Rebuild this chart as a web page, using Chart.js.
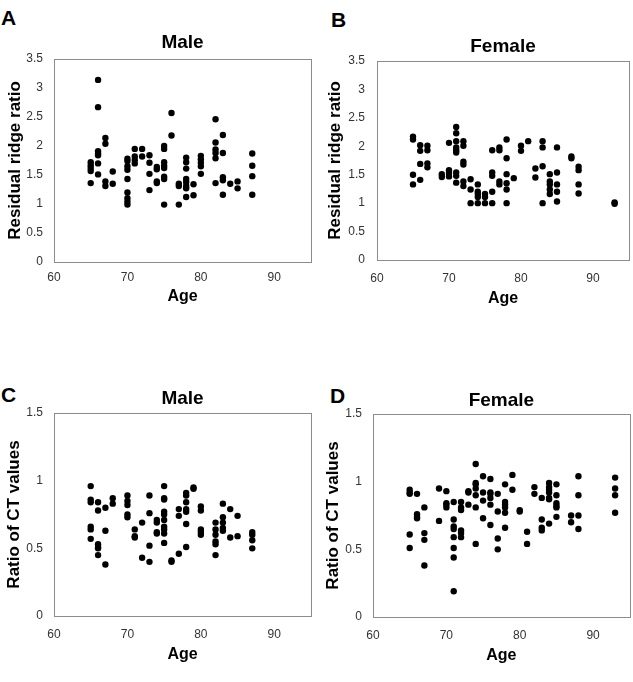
<!DOCTYPE html>
<html>
<head>
<meta charset="utf-8">
<script src="https://cdn.jsdelivr.net/npm/chart.js@4/dist/chart.umd.min.js"></script>
<style>
  body { margin: 0; background: #fff; width: 633px; height: 682px; position: relative; overflow: hidden; }
  .panel { position: absolute; }
  .letter { position: absolute; font: bold 21px "Liberation Sans", Arial, sans-serif; line-height: 21px; color: #000; }
</style>
</head>
<body>
<div class="letter" style="left:1px;top:7px">A</div>
<div class="letter" style="left:331px;top:9px">B</div>
<div class="letter" style="left:1px;top:384px">C</div>
<div class="letter" style="left:330px;top:385px">D</div>

<div class="panel" style="left:0;top:0;width:316px;height:310px"><canvas id="chartA"></canvas></div>
<div class="panel" style="left:318px;top:0;width:315px;height:310px"><canvas id="chartB"></canvas></div>
<div class="panel" style="left:0;top:340px;width:316px;height:330px"><canvas id="chartC"></canvas></div>
<div class="panel" style="left:318px;top:340px;width:315px;height:330px"><canvas id="chartD"></canvas></div>

<script>
// Residual ridge ratio, male (ages, then values at each age)
const maleRidgeAges = [65, 66, 67, 68, 70, 71, 72, 73, 74, 75, 76, 77, 78, 79, 80, 82, 83, 84, 85, 87];
const maleRidgeValues = [
  [1.72, 1.67, 1.62, 1.57, 1.36],
  [3.14, 2.67, 1.91, 1.87, 1.84, 1.70, 1.51],
  [2.14, 2.04, 1.39, 1.31],
  [1.56, 1.35],
  [1.78, 1.74, 1.65, 1.59, 1.43, 1.20, 1.10, 1.04, 0.99],
  [1.95, 1.82, 1.76, 1.70],
  [1.95, 1.82],
  [1.84, 1.71, 1.52, 1.24],
  [1.64, 1.60, 1.39, 1.36],
  [2.00, 1.95, 1.72, 1.66, 1.62, 1.47, 1.43, 0.99],
  [2.57, 2.18],
  [1.35, 1.31, 0.99],
  [1.80, 1.72, 1.61, 1.43, 1.38, 1.31, 1.27, 1.12],
  [1.34, 1.15],
  [1.83, 1.77, 1.71, 1.65, 1.52],
  [2.46, 2.06, 1.94, 1.88, 1.79, 1.36],
  [2.19, 1.88, 1.46, 1.41, 1.16],
  [1.35],
  [1.39, 1.27],
  [1.87, 1.66, 1.48, 1.16]
];

// Residual ridge ratio, female
const femaleRidgeAges = [65, 66, 67, 69, 70, 71, 72, 73, 74, 75, 76, 77, 78, 79, 80, 81, 82, 83, 84, 85, 87, 88, 93];
const femaleRidgeValues = [
  [2.17, 2.12, 1.50, 1.33],
  [2.02, 1.92, 1.69, 1.41],
  [2.01, 1.93, 1.70, 1.63],
  [1.51, 1.46],
  [2.06, 1.58, 1.53, 1.47],
  [2.34, 2.23, 2.09, 1.98, 1.93, 1.89, 1.54, 1.48, 1.36],
  [2.09, 2.01, 1.73, 1.68, 1.38, 1.30],
  [1.42, 1.24, 1.00],
  [1.33, 1.20, 1.16, 1.11, 1.00],
  [1.16, 1.11, 1.00],
  [1.93, 1.54, 1.48, 1.20, 1.00],
  [1.98, 1.93, 1.38, 1.33],
  [2.12, 1.79, 1.51, 1.35, 1.24, 1.00],
  [1.44],
  [2.01, 1.92],
  [2.09],
  [1.61, 1.45],
  [2.09, 1.98, 1.65, 1.00],
  [1.51, 1.38, 1.33, 1.24, 1.16],
  [1.98, 1.54, 1.33, 1.20, 1.03],
  [1.82, 1.79],
  [1.64, 1.58, 1.33, 1.17],
  [1.01, 0.99]
];

// Ratio of CT values, male
const maleCtAges = [65, 66, 67, 68, 70, 71, 72, 73, 74, 75, 76, 77, 78, 79, 80, 82, 83, 84, 85, 87];
const maleCtValues = [
  [0.96, 0.86, 0.84, 0.66, 0.64, 0.57],
  [0.84, 0.78, 0.53, 0.51, 0.50, 0.45],
  [0.80, 0.63, 0.38],
  [0.87, 0.83],
  [0.89, 0.85, 0.82, 0.75, 0.73],
  [0.64, 0.59, 0.58],
  [0.69, 0.43],
  [0.89, 0.76, 0.52, 0.40],
  [0.71, 0.69, 0.62, 0.61],
  [0.96, 0.87, 0.86, 0.77, 0.75, 0.71, 0.66, 0.64, 0.61, 0.54],
  [0.41, 0.40],
  [0.79, 0.74, 0.46],
  [0.91, 0.89, 0.84, 0.79, 0.77, 0.68, 0.51],
  [0.95, 0.94],
  [0.81, 0.78, 0.64, 0.62, 0.60],
  [0.69, 0.64, 0.60, 0.55, 0.53, 0.45],
  [0.83, 0.73, 0.69, 0.65, 0.63],
  [0.79, 0.58],
  [0.74, 0.59],
  [0.62, 0.60, 0.56, 0.50]
];

// Ratio of CT values, female
const femaleCtAges = [65, 66, 67, 69, 70, 71, 72, 73, 74, 75, 76, 77, 78, 79, 80, 81, 82, 83, 84, 85, 87, 88, 93];
const femaleCtValues = [
  [0.94, 0.92, 0.91, 0.61, 0.51],
  [0.91, 0.76, 0.74, 0.73],
  [0.81, 0.62, 0.57, 0.38],
  [0.95, 0.71],
  [0.93, 0.84, 0.83, 0.81],
  [0.85, 0.72, 0.67, 0.65, 0.59, 0.51, 0.44, 0.19],
  [0.85, 0.81, 0.79, 0.64, 0.62, 0.59],
  [0.93, 0.92, 0.83],
  [1.13, 0.99, 0.98, 0.95, 0.90, 0.81, 0.54],
  [1.04, 0.92, 0.86, 0.73],
  [1.02, 0.92, 0.91, 0.88, 0.83, 0.68],
  [0.91, 0.78, 0.58, 0.50],
  [0.98, 0.85, 0.83, 0.81, 0.77, 0.66],
  [1.05, 0.94],
  [0.79, 0.78],
  [0.63, 0.54],
  [0.96, 0.91],
  [0.88, 0.72, 0.66, 0.64],
  [0.99, 0.96, 0.94, 0.92, 0.88, 0.87, 0.69],
  [0.98, 0.90, 0.84, 0.82, 0.81, 0.74],
  [0.75, 0.70],
  [1.04, 0.90, 0.75, 0.65],
  [1.03, 0.95, 0.90, 0.77]
];

const FONT = '"Liberation Sans", Arial, sans-serif';

// draws the grey frame round the plot area
const frame = {
  id: 'frame',
  beforeDatasetsDraw(chart) {
    const a = chart.chartArea, ctx = chart.ctx;
    ctx.save();
    ctx.strokeStyle = '#8c8c8c';
    ctx.lineWidth = 1;
    ctx.strokeRect(Math.round(a.left) + 0.5, Math.round(a.top) + 0.5,
      Math.round(a.right - a.left), Math.round(a.bottom - a.top));
    ctx.restore();
  }
};

function makePanel(id, title, yTitle, ages, values, yMax, box) {
  const points = ages.flatMap((age, i) => values[i].map(v => ({ x: age, y: v })));
  return new Chart(document.getElementById(id), {
    type: 'scatter',
    data: {
      datasets: [{
        data: points,
        backgroundColor: '#000',
        borderWidth: 0,
        pointRadius: 3.2,
        pointHoverRadius: 3.2
      }]
    },
    options: {
      responsive: true,
      maintainAspectRatio: false,
      animation: false,
      events: [],
      layout: { padding: { left: 0, top: 0, bottom: 0, right: box.padRight } },
      plugins: {
        legend: { display: false },
        tooltip: { enabled: false },
        title: {
          display: true,
          text: title,
          fullSize: false,
          color: '#000',
          font: { family: FONT, size: 19, weight: 'bold' },
          padding: { top: box.titleTop, bottom: box.titleBottom }
        }
      },
      scales: {
        x: {
          type: 'linear',
          min: 60,
          max: 95,
          grid: { display: false, drawTicks: false },
          border: { display: false },
          ticks: {
            stepSize: 10,
            includeBounds: false,
            padding: box.xTickPad,
            color: '#333',
            font: { family: FONT, size: 12 },
            callback: v => String(v)
          },
          title: {
            display: true,
            text: 'Age',
            color: '#000',
            font: { family: FONT, size: 16, weight: 'bold' },
            padding: { top: 0, bottom: box.xTitlePad }
          },
          afterFit: s => { s.height = box.xHeight; }
        },
        y: {
          type: 'linear',
          min: 0,
          max: yMax,
          grid: { display: false, drawTicks: false },
          border: { display: false },
          ticks: {
            stepSize: 0.5,
            padding: box.yTickPad,
            color: '#333',
            font: { family: FONT, size: 12 },
            callback: v => String(v)
          },
          title: {
            display: true,
            text: yTitle,
            color: '#000',
            font: { family: FONT, size: 17, weight: 'bold' },
            padding: { top: box.yTitlePad, bottom: 0 }
          },
          afterFit: s => { s.width = box.yWidth; }
        }
      }
    },
    plugins: [frame]
  });
}

makePanel('chartA', 'Male', 'Residual ridge ratio', maleRidgeAges, maleRidgeValues, 3.5,
  { padRight: 5, titleTop: 31.6, titleBottom: 4.6, xHeight: 48, xTickPad: 8.5, xTitlePad: 3.4, yWidth: 54, yTickPad: 11, yTitlePad: 4.8 });
makePanel('chartB', 'Female', 'Residual ridge ratio', femaleRidgeAges, femaleRidgeValues, 3.5,
  { padRight: 4, titleTop: 35.6, titleBottom: 2.6, xHeight: 50, xTickPad: 11, xTitlePad: 1.4, yWidth: 59, yTickPad: 12, yTitlePad: 6.8 });
makePanel('chartC', 'Male', 'Ratio of CT values', maleCtAges, maleCtValues, 1.5,
  { padRight: 5, titleTop: 47.6, titleBottom: 2.6, xHeight: 54, xTickPad: 11, xTitlePad: 5.4, yWidth: 54, yTickPad: 11, yTitlePad: 3.8 });
makePanel('chartD', 'Female', 'Ratio of CT values', femaleCtAges, femaleCtValues, 1.5,
  { padRight: 3, titleTop: 49.6, titleBottom: 1.6, xHeight: 53, xTickPad: 11, xTitlePad: 4.4, yWidth: 55, yTickPad: 11, yTitlePad: 4.8 });
</script>
</body>
</html>
